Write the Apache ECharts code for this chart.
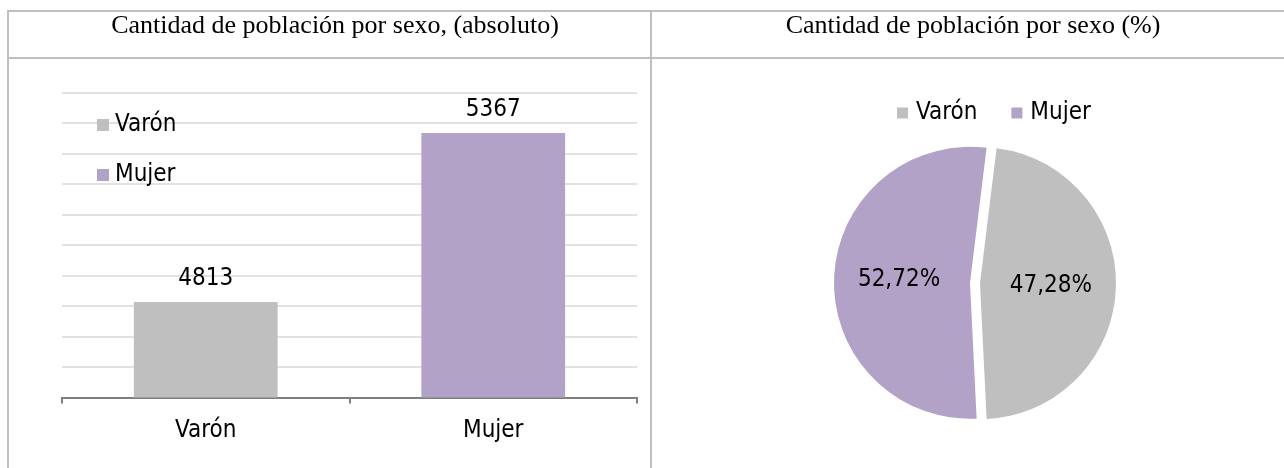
<!DOCTYPE html>
<html>
<head>
<meta charset="utf-8">
<script src="https://cdn.jsdelivr.net/npm/echarts@6/dist/echarts.min.js"></script>
<style>
  html, body { margin: 0; padding: 0; background: #fff; }
  #main { width: 1284px; height: 468px; }
</style>
</head>
<body>
<div id="main"></div>
<script>
// datos del cuadro
const categorias = ['Varón', 'Mujer'];
const poblacion = [4813, 5367];
const titulos = ['Cantidad de población por sexo, (absoluto)', 'Cantidad de población por sexo (%)'];
// escala del eje Y (sin etiquetas visibles)
const ejeMin = 4500;
const ejeMax = 5500;
const ejeIntervalo = 100;

const colores = ['#bfbfbf', '#b2a2c7'];
const fuente = "'DejaVu Sans Condensed', 'DejaVu Sans', sans-serif";
const borde = { stroke: '#bfbfbf', lineWidth: 2 };

const myChart = echarts.init(document.getElementById('main'), null, { renderer: 'canvas' });

// cada sexo es una serie apilada para tener su propia entrada en la leyenda
const seriesBarras = categorias.map((c, i) => ({
    name: c,
    type: 'bar',
    stack: 'total',
    barWidth: '50%',
    data: poblacion.map((v, j) => (j === i ? v : '-')),
    itemStyle: { color: colores[i] },
    label: {
        show: true,
        position: 'top',
        distance: 11,
        color: '#000',
        fontFamily: fuente,
        fontSize: 24
    }
}));

let option = {
    animation: false,
    title: [
        {
            text: titulos[0], left: 330, top: 8, textAlign: 'center',
            textStyle: { fontFamily: "'Liberation Serif', serif", fontSize: 26, fontWeight: 'normal', color: '#000' }
        },
        {
            text: titulos[1], left: 968, top: 8, textAlign: 'center',
            textStyle: { fontFamily: "'Liberation Serif', serif", fontSize: 26, fontWeight: 'normal', color: '#000' }
        }
    ],
    legend: [
        {
            data: categorias,
            orient: 'vertical',
            left: 97,
            top: 112,
            padding: 0,
            itemGap: 24,
            itemWidth: 12,
            itemHeight: 12,
            icon: 'rect',
            selectedMode: false,
            textStyle: { fontFamily: fuente, fontSize: 24, color: '#000', lineHeight: 26, padding: [0, 0, 0, 1] }
        },
        {
            data: categorias,
            orient: 'horizontal',
            left: 897,
            top: 100,
            padding: 0,
            itemGap: 34,
            itemWidth: 11,
            itemHeight: 11,
            icon: 'rect',
            selectedMode: false,
            textStyle: { fontFamily: fuente, fontSize: 24, color: '#000', lineHeight: 26, padding: [0, 0, 0, 3] }
        }
    ],
    grid: { left: 62, top: 92.5, width: 575, height: 305, containLabel: false },
    xAxis: {
        type: 'category',
        data: categorias,
        axisLine: { lineStyle: { color: '#7f7f7f', width: 2 } },
        axisTick: { show: true, length: 6, lineStyle: { color: '#7f7f7f', width: 2 } },
        axisLabel: { color: '#000', fontFamily: fuente, fontSize: 24, margin: 21 }
    },
    yAxis: {
        type: 'value',
        min: ejeMin,
        max: ejeMax,
        interval: ejeIntervalo,
        axisLabel: { show: false },
        axisLine: { show: false },
        axisTick: { show: false },
        splitLine: { lineStyle: { color: '#d9d9d9', width: 1.5 } }
    },
    graphic: [
        // bordes de la tabla
        { type: 'line', shape: { x1: 7, y1: 11, x2: 1284, y2: 11 }, style: borde },
        { type: 'line', shape: { x1: 7, y1: 58, x2: 1284, y2: 58 }, style: borde },
        { type: 'line', shape: { x1: 8, y1: 10, x2: 8, y2: 468 }, style: borde },
        { type: 'line', shape: { x1: 651, y1: 10, x2: 651, y2: 468 }, style: borde }
    ],
    series: seriesBarras.concat([
        {
            name: 'Porcentaje',
            type: 'pie',
            center: [975, 283],
            radius: 136,
            startAngle: 83,
            clockwise: true,
            selectedMode: 'multiple',
            selectedOffset: 5,
            emphasis: { scale: false },
            label: {
                show: true,
                position: 'inside',
                color: '#000',
                fontFamily: fuente,
                fontSize: 24,
                offset: [-2, 3],
                formatter: (p) => p.percent.toFixed(2).replace('.', ',') + '%'
            },
            labelLine: { show: false },
            data: categorias.map((c, i) => ({
                name: c,
                value: poblacion[i],
                selected: true,
                itemStyle: { color: colores[i] }
            }))
        }
    ])
};
option && myChart.setOption(option);
</script>
</body>
</html>
